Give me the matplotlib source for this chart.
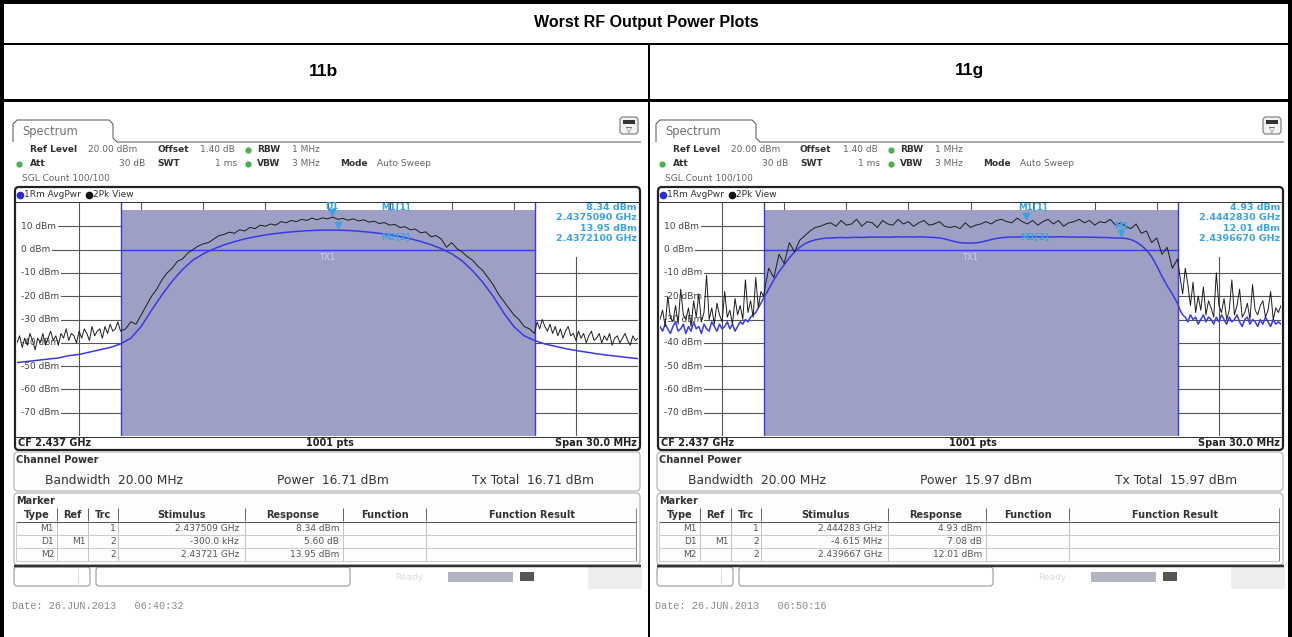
import numpy as np
import matplotlib
matplotlib.use("Agg")
import matplotlib.pyplot as plt
from matplotlib.patches import FancyBboxPatch, Rectangle

plt.rcParams['font.family'] = ['DejaVu Sans']

# ---------------- data ----------------
title = "Worst RF Output Power Plots"
modes = ["11b", "11g"]
y_ticks = [10, 0, -10, -20, -30, -40, -50, -60, -70]
x_grid = [-12, -9, -6, -3, 0, 3, 6, 9, 12]
channel_edges = [-10, 10]

# frequency offsets (MHz) of the sampled trace points
freq_avg_11b = np.linspace(-15, 15, 61)
freq_mixed = np.concatenate([np.linspace(-15, -10, 41), np.linspace(-9.75, 9.75, 79), np.linspace(10, 15, 41)])

avg_11b = [-48.5, -48, -47.5, -47, -46.5, -45.5, -45, -44, -43, -42, -40.5,
           -38, -33, -26, -19.5, -13.5, -8.5, -4.5, -1.8, 0.3, 2, 3.4, 4.6, 5.5, 6.3, 6.9, 7.4, 7.8, 8.1, 8.3,
           8.4,
           8.34, 8.2, 7.9, 7.5, 7.0, 6.4, 5.6, 4.7, 3.5, 2.1, 0.4, -1.8, -4.8, -9, -14, -20, -27, -33, -37, -39,
           -40.5, -41.5, -42.5, -43.3, -44, -44.7, -45.3, -45.8, -46.3, -46.8]

pk_11b_left = [-40, -37, -42, -38, -41, -36, -39, -43, -38, -40, -36, -41, -38, -35, -39, -37, -41, -36, -38, -34,
               -39, -36, -37, -40, -35, -38, -34, -36, -39, -33, -37, -35, -34, -38, -33, -36, -32, -35, -34, -31, -35]
pk_11b_main = [-34, -31, -32, -28, -24, -20, -17, -13, -10, -8, -5, -4, -1.5, 0, 1.5, 2.5, 3, 4.5,
               6, 6.5, 7.5, 7, 8.5, 8, 9.5, 9, 10.5, 10, 11, 10.5, 12, 11.5, 12.5, 12, 13, 12.5, 13.5, 12.8, 13.6,
               13.2, 13.95, 13, 13.4, 12.6, 13.2, 12.3, 12.8, 11.8, 12.2, 11.2, 11.6, 10.5, 10.8, 9.5, 9.8, 8.5, 8.8,
               7.2, 7.6, 5.5,
               6, 4.5, 1, 3, 0.5, -1, -3, -4.5, -7, -9, -12, -15, -19, -22, -25, -28, -30, -33, -34]
pk_11b_right = [-36, -31, -34, -30, -33, -35, -32, -36, -33, -37, -34, -38, -35, -33, -37, -36, -39, -35, -38, -36,
                -40, -37, -35, -39, -38, -36, -40, -37, -39, -36, -41, -38, -37, -40, -38, -36, -39, -41, -37, -39, -38]

avg_11g_left = [-33, -35, -32, -34, -36, -33, -31, -35, -34, -32, -36, -33, -35, -31, -34, -33, -36, -32, -34, -35,
                -31, -33, -35, -32, -34, -33, -31, -34, -32, -35, -33, -31, -32, -30, -31, -29, -28, -27, -25, -23, -21]
avg_11g_main = [-17, -13, -9.5, -6.5, -3.5, -1, 1, 2.5, 3.5, 4.2, 4.6, 4.9,
                5.0, 5.1, 5.2, 5.1, 5.2, 5.3, 5.2, 5.3, 5.4, 5.3, 5.4, 5.3, 5.4, 5.5, 5.4, 5.5, 5.4, 5.5, 5.4, 5.3,
                5.2, 5.0, 4.6, 4.0,
                3.4, 3.0, 2.8, 2.8, 2.9, 3.2, 3.7,
                4.3, 4.8, 5.1, 5.3, 5.4, 5.4, 5.5, 5.4, 5.5, 5.5, 5.4, 5.5, 5.4, 5.5, 5.5, 5.4, 5.4, 5.3, 5.4, 5.3,
                5.3, 5.2, 5.2, 5.1, 5.0, 4.95, 4.8,
                4.3, 3.3, 1.8, -0.2, -3, -7, -11.5, -15.5, -19]
avg_11g_right = [-23, -26, -28, -29, -31, -28, -30, -29, -32, -30, -28, -31, -29, -30, -32, -29, -31, -28, -30, -32,
                 -29, -31, -30, -28, -31, -33, -30, -29, -32, -30, -31, -33, -30, -32, -29, -31, -33, -30, -32, -31, -32]

pk_11g_left = [-30, -26, -33, -20, -29, -31, -24, -32, -17, -28, -30, -25, -33, -22, -29, -19, -31, -27, -11, -30,
               -25, -32, -23, -28, -31, -18, -29, -26, -32, -21, -28, -24, -30, -13, -27, -22, -29, -12, -25, -18, -20]
pk_11g_main = [-8, -12, -2, -6, 3, -1, 4, 6, 8, 9.5, 10, 11,
               11.5, 10, 12.5, 10.5, 11, 13, 10, 12, 11.5, 9.5, 12.5, 11, 10.5, 13, 11, 12, 10, 11.5, 12.5, 10.5,
               11, 12, 10, 9.5,
               10, 9, 11.5, 9.5, 10.5, 11, 12,
               11, 12.5, 13, 12, 11.5, 13.5, 12, 11, 12.5, 10.5, 12, 13, 11, 12.5, 10, 11.5, 12, 13, 11.5, 12.5,
               10.5, 12, 11.5, 13, 10.5, 11.5, 10,
               9, 11, 7, 8, 3, 5, -2, 1, -8]
pk_11g_right = [-4, -12, -19, -8, -15, -24, -14, -27, -20, -26, -16, -28, -22, -25, -29, -10, -24, -27, -21, -30,
                -26, -13, -28, -24, -17, -29, -27, -23, -30, -15, -26, -28, -24, -22, -29, -26, -18, -30, -25, -27, -24]

pk_11b = pk_11b_left + pk_11b_main + pk_11b_right
avg_11g = avg_11g_left + avg_11g_main + avg_11g_right
pk_11g = pk_11g_left + pk_11g_main + pk_11g_right

readout_11b = ["8.34 dBm", "2.4375090 GHz", "13.95 dBm", "2.4372100 GHz"]
readout_11g = ["4.93 dBm", "2.4442830 GHz", "12.01 dBm", "2.4396670 GHz"]

marker_rows_11b = [["M1", "", "1", "2.437509 GHz", "8.34 dBm"],
                   ["D1", "M1", "2", "-300.0 kHz", "5.60 dB"],
                   ["M2", "", "2", "2.43721 GHz", "13.95 dBm"]]
marker_rows_11g = [["M1", "", "1", "2.444283 GHz", "4.93 dBm"],
                   ["D1", "M1", "2", "-4.615 MHz", "7.08 dB"],
                   ["M2", "", "2", "2.439667 GHz", "12.01 dBm"]]

# marker points (offset MHz, level dBm)
mk_freq_11b = [0.509, 0.209, 0.21]
mk_lvl_11b = [8.34, 13.94, 13.95]
mk_freq_11g = [7.283, 2.668, 2.667]
mk_lvl_11g = [4.93, 12.01, 12.01]

channel_power = ["16.71 dBm", "15.97 dBm"]
dates = ["Date: 26.JUN.2013   06:40:32", "Date: 26.JUN.2013   06:50:16"]

table_cols = ["Type", "Ref", "Trc", "Stimulus", "Response", "Function", "Function Result"]

# ---------------- figure ----------------
W, H = 1292, 637
fig = plt.figure(figsize=(W / 100, H / 100), dpi=100)
page = fig.add_axes([0, 0, 1, 1])
page.set_xlim(0, W)
page.set_ylim(H, 0)
page.axis('off')

PX = 0.72  # points per pixel


def T(x, y, s, size=6.5, color='#333333', weight='normal', ha='left', va='center', family=None, z=6):
    kw = {}
    if family:
        kw['family'] = family
    page.text(x, y, s, fontsize=size, color=color, fontweight=weight, ha=ha, va=va, zorder=z, **kw)


def L(xs, ys, color='#333333', lw=1.0, z=3):
    page.plot(xs, ys, color=color, lw=lw * PX, zorder=z, solid_capstyle='butt')


# table frame
L([0, W], [2, 2], 'black', 4)
L([2, 2], [0, H], 'black', 4)
L([W - 2, W - 2], [0, H], 'black', 4)
L([0, W], [44, 44], 'black', 2)
L([0, W], [99.5, 99.5], 'black', 3)
L([649, 649], [44, H], 'black', 2)
T(646, 23, title, size=11.5, color='black', weight='bold', ha='center', family='Liberation Sans')
T(324, 71, modes[0], size=12.5, color='black', weight='bold', ha='center', family='Liberation Sans')
T(969, 71, modes[1], size=12.5, color='black', weight='bold', ha='center', family='Liberation Sans')

SHADE = '#9d9fc4'
BLUE = '#3a3ae2'
LBLUE = '#3aa2e6'


def panel(ox, f_avg, avg, f_pk, pk, readout, rows, mk_f, mk_l, mk_labels, power, date):
    # tab + top line
    L([13 + ox, 13 + ox, 17 + ox, 109 + ox, 113 + ox, 113 + ox, 117 + ox, 641 + ox],
      [142, 124, 120, 120, 124, 138, 142, 142], '#555555', 1)
    T(22 + ox, 131, "Spectrum", size=8.3, color='#707070')
    icon = FancyBboxPatch((620 + ox, 117), 18, 17, boxstyle="round,pad=0,rounding_size=3",
                          fc='#f2f2f2', ec='#777777', lw=0.8, zorder=4)
    page.add_patch(icon)
    page.add_patch(Rectangle((623 + ox, 120), 12, 4, fc='#333333', ec='none', zorder=5))
    T(629 + ox, 129, "\u25bd", size=5.5, color='#333333', ha='center')

    # header
    T(30 + ox, 150, "Ref Level", weight='bold', color='#303030')
    T(88 + ox, 150, "20.00 dBm", color='#666666')
    T(157 + ox, 150, "Offset", weight='bold', color='#303030')
    T(200 + ox, 150, "1.40 dB", color='#666666')
    page.plot([248 + ox], [150], 'o', color='#4caf50', ms=3.5, zorder=6)
    T(257 + ox, 150, "RBW", weight='bold', color='#303030')
    T(292 + ox, 150, "1 MHz", color='#666666')
    page.plot([19 + ox], [164], 'o', color='#4caf50', ms=3.5, zorder=6)
    T(30 + ox, 164, "Att", weight='bold', color='#303030')
    T(145 + ox, 164, "30 dB", color='#666666', ha='right')
    T(157 + ox, 164, "SWT", weight='bold', color='#303030')
    T(237 + ox, 164, "1 ms", color='#666666', ha='right')
    page.plot([248 + ox], [164], 'o', color='#4caf50', ms=3.5, zorder=6)
    T(257 + ox, 164, "VBW", weight='bold', color='#303030')
    T(292 + ox, 164, "3 MHz", color='#666666')
    T(340 + ox, 164, "Mode", weight='bold', color='#303030')
    T(377 + ox, 164, "Auto Sweep", color='#666666')
    T(22 + ox, 178, "SGL Count 100/100", color='#666666')

    # diagram frame
    frame = FancyBboxPatch((15 + ox, 187), 625, 263, boxstyle="round,pad=0,rounding_size=4",
                           fc='white', ec='#222222', lw=1.6, zorder=1)
    page.add_patch(frame)
    page.plot([20 + ox], [194.5], 'o', color='#2a2ad8', ms=4.5, zorder=6)
    T(24 + ox, 194.5, "1Rm AvgPwr", color='#333333')
    page.plot([89 + ox], [194.5], 'o', color='#111111', ms=4.5, zorder=6)
    T(93 + ox, 194.5, "2Pk View", color='#333333')
    L([15 + ox, 640 + ox], [202, 202], '#333333', 1)
    L([15 + ox, 640 + ox], [436.5, 436.5], '#333333', 1)
    T(18 + ox, 443.5, "CF 2.437 GHz", size=7, weight='bold', color='#222222')
    T(330 + ox, 443.5, "1001 pts", size=7, weight='bold', color='#222222', ha='center')
    T(637 + ox, 443.5, "Span 30.0 MHz", size=7, weight='bold', color='#222222', ha='right')

    # channel power box
    cp = FancyBboxPatch((14 + ox, 452), 626, 39, boxstyle="round,pad=0,rounding_size=4",
                        fc='#fdfdfd', ec='#bdbdbd', lw=1, zorder=1)
    page.add_patch(cp)
    T(16 + ox, 460, "Channel Power", size=7, weight='bold', color='#333333')
    T(45 + ox, 481, "Bandwidth  20.00 MHz", size=8.8, color='#333333')
    T(277 + ox, 481, "Power  " + power, size=8.8, color='#333333')
    T(472 + ox, 481, "Tx Total  " + power, size=8.8, color='#333333')

    # marker box
    mb = FancyBboxPatch((14 + ox, 493), 626, 72, boxstyle="round,pad=0,rounding_size=4",
                        fc='#fdfdfd', ec='#bdbdbd', lw=1, zorder=1)
    page.add_patch(mb)
    T(16 + ox, 500.5, "Marker", size=7, weight='bold', color='#333333')
    seps = [57, 88, 118, 245, 343, 426]
    centers = [37, 72, 103, 182, 293, 385, 532]
    for s_, c_ in zip(table_cols, centers):
        T(c_ + ox, 514.5, s_, size=7, weight='bold', color='#333333', ha='center')
    for sx in seps:
        L([sx + ox, sx + ox], [508, 521], '#666666', 1)
        L([sx + ox, sx + ox], [521, 561], '#c4c4c4', 1)
    L([636 + ox, 636 + ox], [508, 561], '#888888', 1)
    L([16 + ox, 636 + ox], [521.5, 521.5], '#555555', 1)
    for yy in [535, 548, 561]:
        L([16 + ox, 636 + ox], [yy, yy], '#cccccc', 1)
    L([16 + ox, 16 + ox], [521, 561], '#cccccc', 1)
    rx = [54, 86, 116, 239, 339]
    for i, row in enumerate(rows):
        yy = 528.5 + 13 * i
        for j, val in enumerate(row):
            if val:
                T(rx[j] + ox, yy, val, size=6.5, color='#555555', ha='right')
    L([14 + ox, 641 + ox], [565.5, 565.5], '#333333', 2.5)

    # buttons / status
    for (bx, bw) in [(14, 76), (96, 254)]:
        page.add_patch(FancyBboxPatch((bx + ox, 567), bw, 19, boxstyle="round,pad=0,rounding_size=3",
                                      fc='white', ec='#9a9a9a', lw=0.8, zorder=2))
    L([78 + ox, 78 + ox], [568, 585], '#dddddd', 1)
    page.add_patch(Rectangle((588 + ox, 567), 54, 22, fc='#eeeeee', ec='none', zorder=1))
    T(395 + ox, 577, "Ready", size=6.5, color='#dcdcdc')
    page.add_patch(Rectangle((448 + ox, 572), 65, 10, fc='#b4b5c4', ec='none', zorder=2))
    page.add_patch(Rectangle((520 + ox, 572), 14, 9, fc='#555555', ec='none', zorder=2))
    T(12 + ox, 606, date, size=7.4, color='#8a8a8a', family='Liberation Mono')

    # ---- spectrum plot ----
    left, right, top, bot = 17 + ox, 638 + ox, 203, 436
    ax = fig.add_axes([left / W, 1 - bot / H, (right - left) / W, (bot - top) / H])
    ax.set_xlim(-15, 15)
    ax.set_ylim(-80, 20)
    ax.axis('off')
    for yv in y_ticks:
        ax.plot([-15, 15], [yv, yv], color='#555555', lw=0.8, zorder=1)
    for xv in x_grid:
        ax.plot([xv, xv], [-80, 20], color='#555555', lw=0.8, zorder=1)
    ax.fill_between(channel_edges, -80, 17, color=SHADE, lw=0, zorder=2)
    ax.add_patch(Rectangle((10, -3.2), 5, 23.2, fc='white', ec='none', zorder=2.5))
    for xe in channel_edges:
        ax.plot([xe, xe], [-80, 20], color=BLUE, lw=1.0, zorder=3)
    ax.plot(channel_edges, [0, 0], color=BLUE, lw=1.0, zorder=3)
    # white strip behind the level labels, then labels
    for yv in y_ticks:
        ax.add_patch(Rectangle((-15, yv - 1.8), 0.3, 3.6, fc='white', ec='none', zorder=3.4))
        ax.text(-14.8, yv, f"{yv} dBm", fontsize=6.5, color='#444444', va='center', ha='left', zorder=3.5,
                bbox=dict(boxstyle='square,pad=0.2', fc='white', ec='none'))
    ax.text(0, -3.2, "TX1", fontsize=6, color='#cdd0e6', ha='center', va='center', zorder=3)
    ax.plot(f_avg, avg, color=BLUE, lw=1.1, zorder=4)
    ax.plot(f_pk, pk, color='#1c1c1c', lw=0.7, zorder=5)
    for fx, lv in zip(mk_f, mk_l):
        ax.plot([fx], [lv + 2.2], marker='v', color=LBLUE, ms=3.8, zorder=6)
    for (tx, ty, s) in mk_labels:
        ax.text(tx, ty, s, fontsize=6.3, color=LBLUE, fontweight='bold', ha='center', va='center', zorder=6)
    ys = [18.1, 13.6, 9.1, 4.6]
    for s, yv in zip(readout, ys):
        ax.text(14.95, yv, s, fontsize=6.8, color=LBLUE, fontweight='bold', ha='right', va='center', zorder=6)


panel(0, freq_avg_11b, avg_11b, freq_mixed, pk_11b, readout_11b, marker_rows_11b,
      mk_freq_11b, mk_lvl_11b,
      [(0.2, 18.3, "D1"), (3.3, 18.3, "M1[1]"), (3.3, 5.3, "M2[2]")],
      channel_power[0], dates[0])
panel(643, freq_mixed, avg_11g, freq_mixed, pk_11g, readout_11g, marker_rows_11g,
      mk_freq_11g, mk_lvl_11g,
      [(3.0, 18.3, "M1[1]"), (7.3, 10.0, "M1"), (3.1, 5.3, "M2[2]")],
      channel_power[1], dates[1])

fig.savefig("out.png", dpi=100)
